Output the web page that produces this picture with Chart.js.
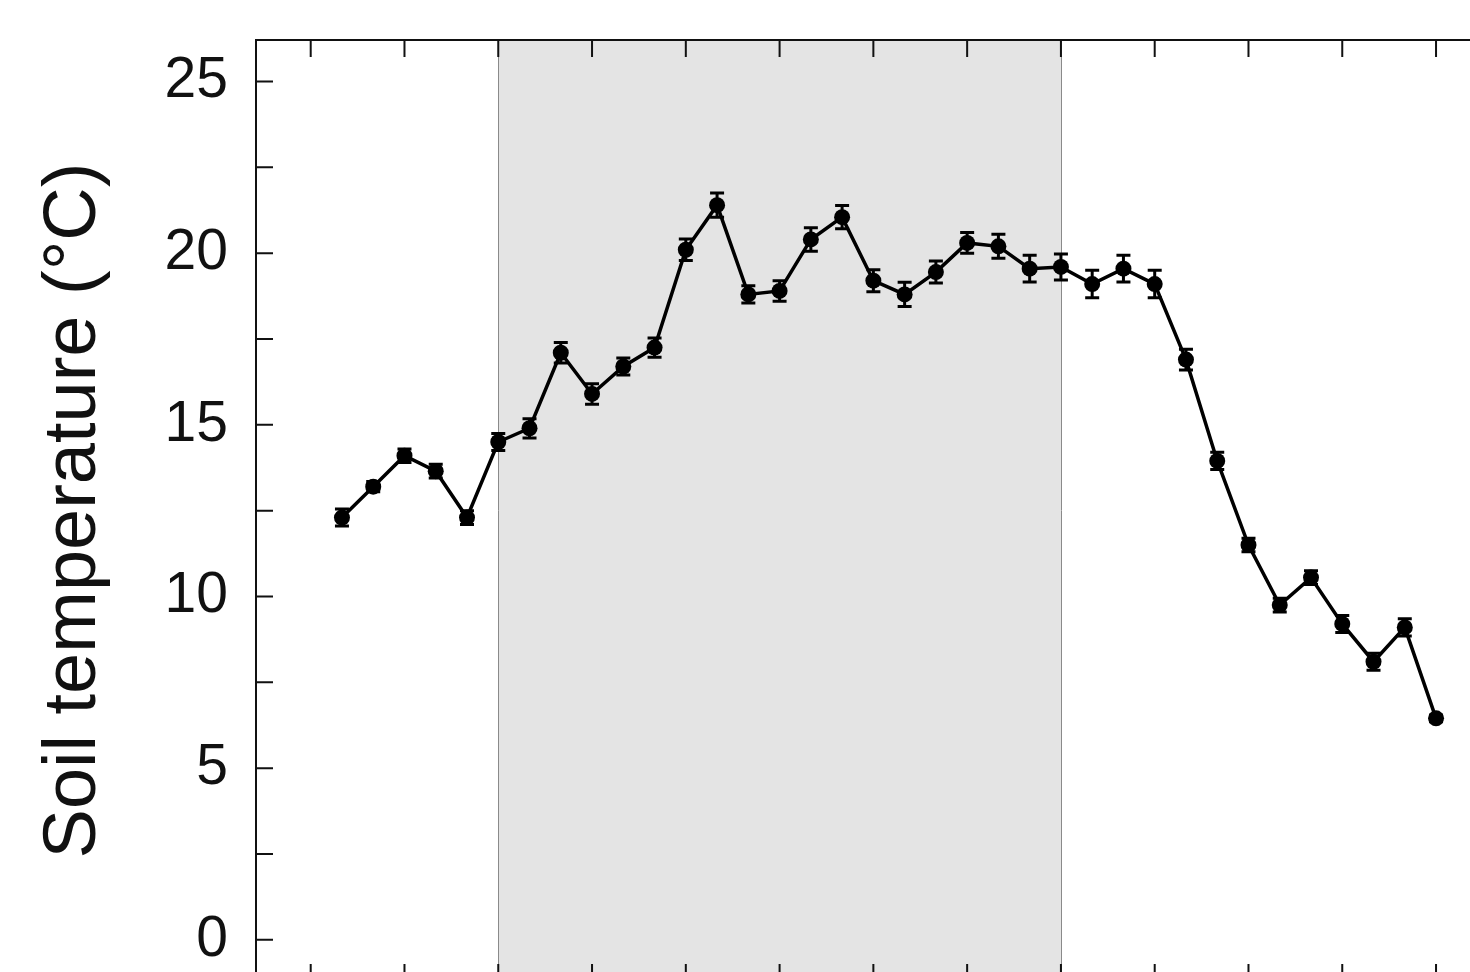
<!DOCTYPE html>
<html>
<head>
<meta charset="utf-8">
<script src="https://cdn.jsdelivr.net/npm/chart.js@4/dist/chart.umd.min.js"></script>
<style>
  html, body { margin: 0; padding: 0; background: #ffffff; overflow: hidden; }
  #wrap { position: absolute; left: 0; top: 0; }
  canvas { display: block; }
</style>
</head>
<body>
<div id="wrap"><canvas id="chart" width="1540" height="990"></canvas></div>
<script>
// Sampling occasions (sequential index) and soil temperature means with standard errors
const sampleIndex = [0, 1, 2, 3, 4, 5, 6, 7, 8, 9, 10, 11, 12, 13, 14, 15, 16, 17,
                     18, 19, 20, 21, 22, 23, 24, 25, 26, 27, 28, 29, 30, 31, 32, 33, 34, 35];
const soilTemp = [12.3, 13.2, 14.1, 13.65, 12.3, 14.5, 14.9, 17.1, 15.9, 16.7, 17.25, 20.1,
                  21.4, 18.8, 18.9, 20.4, 21.05, 19.2, 18.8, 19.45, 20.3, 20.2, 19.55, 19.6,
                  19.1, 19.55, 19.1, 16.9, 13.95, 11.5, 9.75, 10.55, 9.2, 8.1, 9.1, 6.45];
const soilTempErr = [0.25, 0.15, 0.2, 0.2, 0.2, 0.25, 0.28, 0.3, 0.3, 0.25, 0.28, 0.31,
                     0.35, 0.25, 0.3, 0.34, 0.34, 0.32, 0.35, 0.32, 0.3, 0.35, 0.39, 0.38,
                     0.4, 0.39, 0.4, 0.3, 0.25, 0.2, 0.2, 0.2, 0.25, 0.25, 0.25, 0.1];
// Shaded period (sample index range)
const shadedPeriod = [5, 23];
// Axis ticks
const xMajorTicks = [-1, 2, 5, 8, 11, 14, 17, 20, 23, 26, 29, 32, 35, 38];
const yMajorTicks = [0, 5, 10, 15, 20, 25];
const yMinorTicks = [2.5, 7.5, 12.5, 17.5, 22.5];

const FONT = '"Liberation Sans", Arial, Helvetica, sans-serif';
const INK = '#111111';

const points = sampleIndex.map((x, i) => ({ x: x, y: soilTemp[i] }));

// Grey band for the shaded period, drawn behind the series
const bandPlugin = {
  id: 'band',
  beforeDatasetsDraw(chart) {
    const { ctx, chartArea, scales } = chart;
    const x0 = scales.x.getPixelForValue(shadedPeriod[0]);
    const x1 = scales.x.getPixelForValue(shadedPeriod[1]);
    ctx.save();
    ctx.fillStyle = '#e4e4e4';
    ctx.fillRect(x0, chartArea.top, x1 - x0, chartArea.bottom - chartArea.top);
    ctx.strokeStyle = '#8a8a8a';
    ctx.lineWidth = 1;
    [x0, x1].forEach(px => {
      ctx.beginPath();
      ctx.moveTo(Math.round(px) + 0.5, chartArea.top);
      ctx.lineTo(Math.round(px) + 0.5, chartArea.bottom);
      ctx.stroke();
    });
    ctx.restore();
  }
};

// Error bars with caps
const errorBarPlugin = {
  id: 'errorBars',
  afterDatasetsDraw(chart) {
    const { ctx, scales } = chart;
    ctx.save();
    ctx.strokeStyle = '#000000';
    ctx.lineWidth = 3;
    const cap = 7;
    sampleIndex.forEach((xv, i) => {
      const px = scales.x.getPixelForValue(xv);
      const yTop = scales.y.getPixelForValue(soilTemp[i] + soilTempErr[i]);
      const yBot = scales.y.getPixelForValue(soilTemp[i] - soilTempErr[i]);
      ctx.beginPath();
      ctx.moveTo(px, yTop); ctx.lineTo(px, yBot);
      ctx.moveTo(px - cap, yTop); ctx.lineTo(px + cap, yTop);
      ctx.moveTo(px - cap, yBot); ctx.lineTo(px + cap, yBot);
      ctx.stroke();
    });
    ctx.restore();
  }
};

// Box frame with inward tick marks on all four sides
const framePlugin = {
  id: 'frame',
  afterDraw(chart) {
    const { ctx, chartArea, scales } = chart;
    const { left, right, top, bottom } = chartArea;
    const tl = 17;
    ctx.save();
    ctx.strokeStyle = INK;
    ctx.lineWidth = 2;
    ctx.strokeRect(left, top, right - left, bottom - top);
    ctx.beginPath();
    xMajorTicks.forEach(v => {
      const px = scales.x.getPixelForValue(v);
      if (px <= left + 1 || px >= right - 1) return;
      ctx.moveTo(px, top); ctx.lineTo(px, top + tl);
      ctx.moveTo(px, bottom); ctx.lineTo(px, bottom - tl);
    });
    yMajorTicks.concat(yMinorTicks).forEach(v => {
      const py = scales.y.getPixelForValue(v);
      ctx.moveTo(left, py); ctx.lineTo(left + tl, py);
      ctx.moveTo(right, py); ctx.lineTo(right - tl, py);
    });
    ctx.stroke();
    ctx.restore();
  }
};

new Chart(document.getElementById('chart'), {
  type: 'line',
  data: {
    datasets: [{
      label: 'Soil temperature',
      data: points,
      borderColor: '#000000',
      borderWidth: 3.5,
      backgroundColor: '#000000',
      pointBackgroundColor: '#000000',
      pointBorderColor: '#000000',
      pointRadius: 8,
      pointBorderWidth: 0,
      tension: 0,
      fill: false
    }]
  },
  options: {
    responsive: false,
    animation: false,
    devicePixelRatio: 1,
    layout: { padding: { left: 0, right: 18, top: 40, bottom: 9 } },
    plugins: { legend: { display: false }, tooltip: { enabled: false } },
    scales: {
      x: {
        type: 'linear',
        min: -2.75,
        max: 37.75,
        grid: { display: false, drawTicks: false },
        border: { display: false },
        ticks: { display: false },
        afterFit(scale) { scale.height = 0; scale.paddingLeft = 0; scale.paddingRight = 0; }
      },
      y: {
        type: 'linear',
        min: -1.2,
        max: 26.21,
        grid: { display: false, drawTicks: false },
        border: { display: false },
        afterBuildTicks(scale) { scale.ticks = yMajorTicks.map(v => ({ value: v })); },
        afterFit(scale) { scale.width = 256; scale.paddingTop = 0; scale.paddingBottom = 0; },
        ticks: {
          color: INK,
          padding: 28,
          font: { family: FONT, size: 57 }
        },
        title: {
          display: true,
          text: 'Soil temperature (°C)',
          color: INK,
          padding: { top: 30, bottom: 0 },
          font: { family: FONT, size: 74 }
        }
      }
    }
  },
  plugins: [bandPlugin, errorBarPlugin, framePlugin]
});
</script>
</body>
</html>
